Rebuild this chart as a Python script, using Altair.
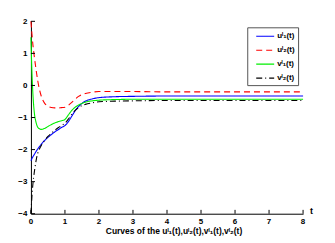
import altair as alt
import pandas as pd

t = [0, 0.03, 0.06, 0.1, 0.15, 0.2, 0.25, 0.3, 0.4, 0.5, 0.6, 0.7, 0.8, 0.9, 1.0,
     1.1, 1.2, 1.3, 1.4, 1.5, 1.6, 1.8, 2.0, 2.5, 3.0, 4.0, 5.0, 6.0, 7.0, 8.0]

u1 = [-2.35, -2.28, -2.22, -2.15, -2.06, -1.98, -1.91, -1.84, -1.72, -1.62, -1.53, -1.45,
      -1.38, -1.31, -1.25, -1.13, -0.96, -0.79, -0.66, -0.56, -0.49, -0.42, -0.38, -0.35,
      -0.34, -0.33, -0.33, -0.33, -0.33, -0.33]
u2 = [2.0, 1.6, 1.25, 0.9, 0.5, 0.15, -0.12, -0.32, -0.55, -0.65, -0.69, -0.7, -0.7,
      -0.69, -0.68, -0.62, -0.53, -0.43, -0.34, -0.28, -0.25, -0.21, -0.19, -0.19, -0.19,
      -0.2, -0.2, -0.2, -0.2, -0.2]
v1 = [1.5, 0.4, -0.3, -0.85, -1.15, -1.3, -1.35, -1.37, -1.34, -1.28, -1.22, -1.17, -1.13,
      -1.1, -1.06, -0.92, -0.78, -0.68, -0.61, -0.56, -0.52, -0.48, -0.46, -0.44, -0.43,
      -0.43, -0.43, -0.43, -0.43, -0.43]
v2 = [-4.0, -3.45, -3.05, -2.7, -2.35, -2.12, -1.98, -1.88, -1.72, -1.59, -1.49, -1.4,
      -1.32, -1.25, -1.18, -1.05, -0.9, -0.78, -0.69, -0.63, -0.59, -0.54, -0.51, -0.49,
      -0.48, -0.47, -0.47, -0.47, -0.47, -0.47]

names = ["uˡ₁(t)", "uˡ₂(t)", "vˡ₁(t)", "vˡ₂(t)"]
colors = ["#0000ff", "#ff0000", "#00ee00", "#000000"]
dashes = [[1, 0], [6, 4], [1, 0], [6, 3, 1, 3]]

x_ticks = [0, 1, 2, 3, 4, 5, 6, 7, 8]
y_ticks = [-4, -3, -2, -1, 0, 1, 2]
x_title = "Curves of the uˡ₁(t),uˡ₂(t),vˡ₁(t),vˡ₂(t)"

rows = []
for name, vals in zip(names, [u1, u2, v1, v2]):
    for ti, vi in zip(t, vals):
        rows.append({"t": ti, "val": vi, "series": name})
df = pd.DataFrame(rows)

FONT = "Liberation Sans"

xscale = alt.Scale(domain=[0, 8], nice=False)
yscale = alt.Scale(domain=[-4, 2], nice=False)

AX_X = alt.Axis(values=x_ticks, title=x_title, labels=False,
                ticks=False, titlePadding=13, grid=False, tickCount=9,
                titleX=143, titleAlign="center",
                domainColor="black", titleColor="black",
                titleFontSize=8.5, titleFontWeight="bold", titleFont=FONT)
AX_Y = alt.Axis(values=y_ticks, title=None, ticks=False, labelPadding=4, grid=False,
                labelOverlap=False, tickCount=7,
                domainColor="black", labelColor="black", labelFontSize=8,
                labelFontWeight="bold", labelFont=FONT)

lines = alt.Chart(df).mark_line(strokeWidth=1.1, interpolate="monotone").encode(
    x=alt.X("t:Q", scale=xscale, axis=AX_X),
    y=alt.Y("val:Q", scale=yscale, axis=AX_Y),
    color=alt.Color("series:N", scale=alt.Scale(domain=names, range=colors),
                    legend=alt.Legend(title=None, orient="none", legendX=217, legendY=6,
                                      strokeColor="#555555", fillColor="white", padding=3,
                                      symbolType="M0,0H3.6", symbolSize=100,
                                      symbolStrokeWidth=1.2,
                                      labelFontSize=8, labelFont=FONT, labelColor="black",
                                      labelFontWeight="bold",
                                      rowPadding=4, labelOffset=15)),
    strokeDash=alt.StrokeDash("series:N", scale=alt.Scale(domain=names, range=dashes)),
)

xt = pd.DataFrame({"t": x_ticks, "v": [-4] * len(x_ticks), "lab": [str(v) for v in x_ticks]})
yt = pd.DataFrame({"v": y_ticks})

xticks = alt.Chart(xt).mark_rule(color="black", strokeWidth=1).encode(
    x=alt.X("t:Q", scale=xscale, axis=AX_X),
    y=alt.datum(-4, scale=yscale, axis=AX_Y), y2=alt.datum(-3.88))
yticks = alt.Chart(yt).mark_rule(color="black", strokeWidth=1).encode(
    y=alt.Y("v:Q", scale=yscale, axis=AX_Y),
    x=alt.datum(0, scale=xscale, axis=AX_X), x2=alt.datum(0.12))

xlabels = alt.Chart(xt).mark_text(
    font=FONT, fontSize=8, fontWeight="bold", color="black", baseline="middle", dy=8).encode(
    x=alt.X("t:Q", scale=xscale, axis=AX_X), y=alt.Y("v:Q", scale=yscale, axis=AX_Y),
    text="lab:N")

tlabel = alt.Chart(pd.DataFrame({"t": [8], "v": [-4], "lab": ["t"]})).mark_text(
    font=FONT, fontSize=9, fontWeight="bold", color="black", align="left", dx=7, dy=-3).encode(
    x=alt.X("t:Q", scale=xscale, axis=AX_X), y=alt.Y("v:Q", scale=yscale, axis=AX_Y),
    text="lab:N")

chart = alt.layer(lines, xticks, yticks, xlabels, tlabel).properties(
    width=273, height=193,
    autosize=alt.AutoSizeParams(type="none"),
    padding={"left": 23, "top": 13, "right": 24, "bottom": 26},
).configure_view(stroke=None).configure_axis(domainWidth=1, labelOverlap=False)

chart.save("out.html", embed_options={"renderer": "svg", "actions": False})
